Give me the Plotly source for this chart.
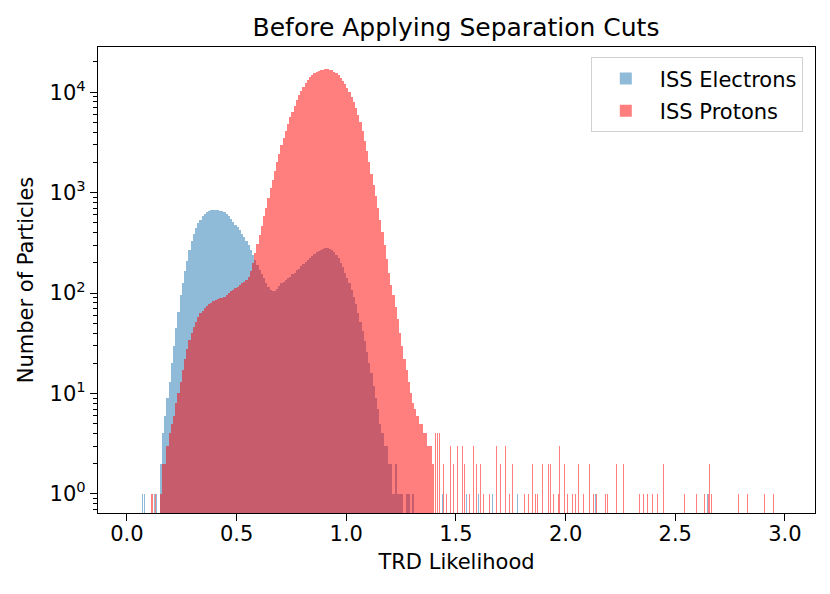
import numpy as np
import plotly.graph_objects as go

# ---------------- data ----------------
bin_width = 0.01
bin_start = 0.15  # first main-body bin edge

electrons_main = [
    2, 4, 6, 9, 13, 20, 30, 45, 65, 95,
    125, 165, 210, 270, 330, 390, 440, 500, 540, 580,
    610, 640, 660, 670, 675, 670, 665, 660, 650, 640,
    610, 580, 545, 510, 480, 450, 420, 390, 360, 330,
    300, 270, 240, 215, 190, 170, 155, 140, 125, 115,
    108, 105, 105, 110, 118, 125, 130, 135, 140, 145,
    155, 160, 170, 175, 185, 195, 205, 215, 225, 235,
    245, 255, 265, 270, 275, 280, 278, 275, 268, 255,
    240, 222, 200, 180, 160, 140, 125, 108, 92, 78,
    64, 52, 42, 33, 26, 20, 16, 12, 9, 7,
    5, 4, 3, 3, 2, 2, 1, 2, 1, 1,
    1, 0, 1, 1, 0, 1, 0, 0, 0, 0,
    0, 0, 0, 0, 0,
]

protons_main = [
    1, 2, 2, 3, 4, 5, 6, 8, 10, 13,
    17, 22, 28, 34, 40, 46, 52, 58, 63, 67,
    71, 75, 78, 80, 83, 85, 87, 89, 90, 92,
    96, 100, 104, 108, 112, 116, 120, 125, 130, 135,
    145, 165, 200, 250, 310, 380, 470, 580, 710, 880,
    1100, 1350, 1650, 2000, 2450, 2950, 3500, 4150, 4850, 5600,
    6400, 7300, 8300, 9300, 10300, 11300, 12300, 13300, 14100, 14800,
    15400, 15900, 16300, 16600, 16800, 16900, 16900, 16800, 16500, 16000,
    15400, 14700, 13900, 13000, 12000, 11000, 10000, 9000, 7900, 6900,
    5900, 5000, 4100, 3300, 2600, 2000, 1550, 1200, 920, 700,
    540, 410, 300, 220, 160, 120, 95, 72, 55, 40,
    30, 22, 17, 13, 10, 8, 7, 6, 5, 5,
    4, 4, 3, 3, 2,
]

# sparse single bins outside the main body: (position, count)
electrons_sparse_x = [0.073, 0.082, 0.125, 0.135, 1.437, 1.546, 1.605, 1.665,
                      1.779, 1.792, 2.102, 2.134, 2.649]
electrons_sparse_n = [1, 1, 1, 1, 1, 1, 1, 1, 1, 1, 1, 1, 1]

protons_sparse_x = [0.110, 0.118, 0.128, 0.137,
                    1.405, 1.414, 1.427, 1.441, 1.455, 1.473, 1.487, 1.505,
                    1.528, 1.541, 1.560, 1.578, 1.592, 1.610, 1.624, 1.655,
                    1.687, 1.705, 1.728, 1.746, 1.760, 1.792, 1.812, 1.830,
                    1.847, 1.862, 1.872, 1.893, 1.920, 1.931, 1.944, 1.966,
                    1.974, 1.993, 2.010, 2.030, 2.045, 2.060, 2.080, 2.110,
                    2.125, 2.140, 2.180, 2.192, 2.230, 2.266, 2.338, 2.356,
                    2.374, 2.398, 2.417, 2.444, 2.544, 2.595, 2.633, 2.650,
                    2.658, 2.667, 2.790, 2.830, 2.905, 2.950]
protons_sparse_n = [1, 1, 1, 1,
                    4, 4, 4, 2, 1, 3, 2, 3,
                    3, 2, 1, 3, 2, 2, 1, 1,
                    3, 2, 3, 1, 2, 4, 1, 1,
                    2, 1, 1, 2, 2, 2, 1, 1,
                    3, 2, 1, 1, 1, 2, 1, 2,
                    1, 1, 1, 1, 2, 2, 1, 1,
                    1, 1, 1, 2, 1, 1, 1, 1,
                    2, 1, 1, 1, 1, 1]

y_tick_vals = [1, 10, 100, 1000, 10000]
y_tick_text = ["10<sup>0</sup>", "10<sup>1</sup>", "10<sup>2</sup>",
               "10<sup>3</sup>", "10<sup>4</sup>"]
x_tick_vals = [0.0, 0.5, 1.0, 1.5, 2.0, 2.5, 3.0]
x_tick_text = ["0.0", "0.5", "1.0", "1.5", "2.0", "2.5", "3.0"]

# ---------------- build figure ----------------
centers = bin_start + bin_width * (np.arange(len(protons_main)) + 0.5)

def nz(x, y):
    x = np.asarray(x, float)
    y = np.asarray(y, float)
    m = y > 0
    return x[m], y[m]

ex, ey = nz(centers, electrons_main)
px_, py_ = nz(centers, protons_main)

blue = "rgba(31,119,180,0.5)"
red = "rgba(255,0,0,0.5)"

fig = go.Figure()
fig.add_trace(go.Bar(x=ex, y=ey, width=bin_width, marker=dict(color=blue, line=dict(width=0)),
                     name="ISS Electrons", legendgroup="e"))
fig.add_trace(go.Bar(x=electrons_sparse_x, y=electrons_sparse_n, width=0.0045,
                     marker=dict(color=blue, line=dict(width=0)),
                     name="ISS Electrons", legendgroup="e", showlegend=False))
fig.add_trace(go.Bar(x=px_, y=py_, width=bin_width, marker=dict(color=red, line=dict(width=0)),
                     name="ISS Protons", legendgroup="p"))
fig.add_trace(go.Bar(x=protons_sparse_x, y=protons_sparse_n, width=0.0045,
                     marker=dict(color=red, line=dict(width=0)),
                     name="ISS Protons", legendgroup="p", showlegend=False))

font_family = "DejaVu Sans"
minor_vals = [m * 10 ** d for d in range(-1, 5) for m in range(2, 10)]

# page has an 8px body margin, so the figure is sized to fit the 830x594 window
W, H = 814, 578
fig.update_layout(
    width=W, height=H,
    margin=dict(l=90, r=7, t=39, b=73),
    paper_bgcolor="white", plot_bgcolor="white",
    barmode="overlay", bargap=0,
    font=dict(family=font_family, size=21, color="black"),
    title=dict(text="Before Applying Separation Cuts", x=448 / W, xanchor="center",
               y=1 - 19 / H, yanchor="middle", font=dict(size=25, family=font_family),
               automargin=False),
    legend=dict(x=0.983, y=0.978, xanchor="right", yanchor="top",
                bgcolor="rgba(255,255,255,0.8)", bordercolor="#d0d0d0", borderwidth=1,
                font=dict(size=21, family=font_family), tracegroupgap=2,
                itemsizing="constant", itemwidth=58),
    showlegend=True,
)
fig.update_xaxes(
    range=[-0.132, 3.137], tickvals=x_tick_vals, ticktext=x_tick_text,
    ticks="outside", ticklen=7, tickwidth=1.3, tickcolor="black",
    showline=True, linecolor="black", linewidth=1.3, mirror=True,
    showgrid=False, zeroline=False, automargin=False, ticklabelstandoff=-5,
    title=dict(text="TRD Likelihood", font=dict(size=21), standoff=8),
    tickfont=dict(size=21),
)
fig.update_yaxes(
    type="log", range=[-0.19, 4.45], tickvals=y_tick_vals, ticktext=y_tick_text,
    ticks="outside", ticklen=7, tickwidth=1.3, tickcolor="black",
    showline=True, linecolor="black", linewidth=1.3, mirror=True,
    showgrid=False, zeroline=False, automargin=False,
    minor=dict(tickvals=minor_vals, ticks="outside", ticklen=4, tickcolor="black", tickwidth=1),
    title=dict(text="Number of Particles", font=dict(size=21), standoff=10),
    tickfont=dict(size=21),
)

fig.write_html("out.html")
